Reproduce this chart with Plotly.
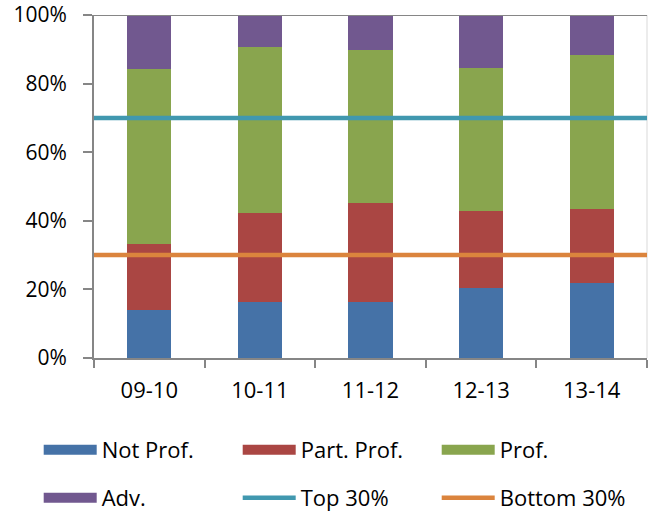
import plotly.graph_objects as go

# School years on the category axis
years = ["09-10", "10-11", "11-12", "12-13", "13-14"]

# Share of students in each performance band (percent)
not_prof = [14.0, 16.4, 16.3, 20.5, 21.8]
part_prof = [19.3, 25.8, 28.9, 22.5, 21.5]
prof = [51.0, 48.5, 44.7, 41.6, 44.9]
adv = [15.7, 9.3, 10.1, 15.4, 11.8]

# Reference thresholds (percent)
top_30 = 70
bottom_30 = 30

y_ticks = [0, 20, 40, 60, 80, 100]
y_tick_labels = ["0%", "20%", "40%", "60%", "80%", "100%"]

FONT = "Open Sans"
AXIS = "#868686"

bands = [
    ("Not Prof.", not_prof, "#4572A7"),
    ("Part. Prof.", part_prof, "#AA4643"),
    ("Prof.", prof, "#89A54E"),
    ("Adv.", adv, "#71588F"),
]

fig = go.Figure()

for name, vals, color in bands:
    fig.add_trace(go.Bar(
        x=years, y=vals, name=name, marker=dict(color=color, line=dict(width=0)),
        showlegend=False, hoverinfo="x+y+name",
    ))

# Legend swatches for the bar series (wide coloured strips)
for i, (name, vals, color) in enumerate(bands):
    fig.add_trace(go.Scatter(
        x=[None], y=[None], mode="lines", name=name,
        line=dict(color=color, width=15),
        legend="legend" if i < 3 else "legend2",
        xaxis="x2",
    ))

# Threshold lines spanning the whole plot width
fig.add_trace(go.Scatter(
    x=[0, 1], y=[top_30, top_30], mode="lines", name="Top 30%",
    line=dict(color="#4198AF", width=4.5), xaxis="x2", legend="legend2",
))
fig.add_trace(go.Scatter(
    x=[0, 1], y=[bottom_30, bottom_30], mode="lines", name="Bottom 30%",
    line=dict(color="#DB843D", width=4.5), xaxis="x2", legend="legend2",
))

legend_common = dict(
    orientation="h", xanchor="left", yanchor="middle",
    entrywidth=131, entrywidthmode="pixels", itemwidth=53,
    font=dict(family=FONT, size=22, color="#000000"),
    bgcolor="rgba(0,0,0,0)", borderwidth=0, traceorder="normal",
    itemclick=False, itemdoubleclick=False,
)

fig.update_layout(
    width=648, height=512,
    margin=dict(l=94, r=1, t=15, b=154, autoexpand=False),
    paper_bgcolor="white", plot_bgcolor="white",
    barmode="stack", bargap=0.6,
    font=dict(family=FONT, size=21, color="#000000"),
    xaxis=dict(
        type="category", showgrid=False, zeroline=False,
        showline=True, linecolor=AXIS, linewidth=2,
        ticks="outside", tickson="boundaries", ticklen=8, tickwidth=2, tickcolor=AXIS,
        tickfont=dict(family=FONT, size=22), ticklabelstandoff=12,
    ),
    xaxis2=dict(overlaying="x", range=[0, 1], visible=False, fixedrange=True),
    yaxis=dict(
        range=[0, 100], tickvals=y_ticks, ticktext=y_tick_labels,
        showgrid=False, zeroline=False,
        showline=True, linecolor=AXIS, linewidth=2,
        ticks="outside", ticklen=9, tickwidth=2, tickcolor=AXIS,
        tickfont=dict(family=FONT, size=21), ticklabelstandoff=12,
    ),
    legend=dict(x=-0.1, y=-0.268, **legend_common),
    legend2=dict(x=-0.1, y=-0.408, **legend_common),
    shapes=[
        dict(type="line", xref="paper", yref="y", x0=0, x1=1, y0=100, y1=100,
             line=dict(color=AXIS, width=2), layer="above"),
        dict(type="line", xref="paper", yref="paper", x0=1, x1=1, y0=0, y1=1,
             line=dict(color="#D9D9D9", width=1), layer="below"),
    ],
)

fig.write_html("out.html")
